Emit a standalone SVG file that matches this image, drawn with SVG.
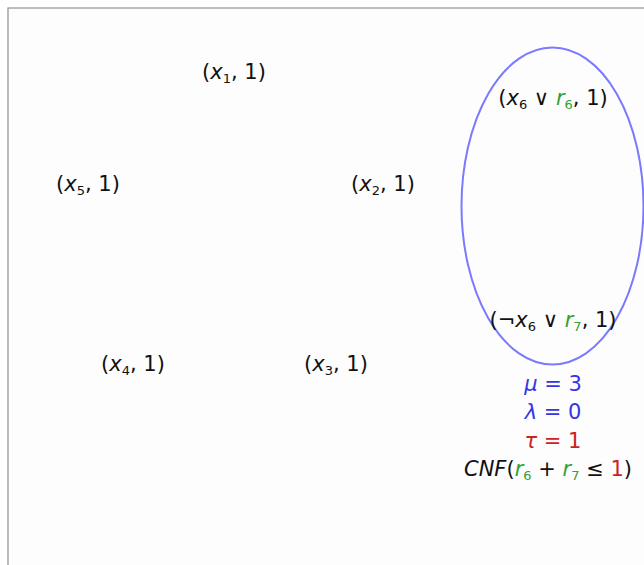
<svg xmlns="http://www.w3.org/2000/svg" width="644" height="565" viewBox="0 0 644 565">
<style>
text{font-family:"DejaVu Sans","Liberation Sans",sans-serif;font-size:21px;fill:#111;text-anchor:middle}
.i{font-style:italic}
.s{font-size:13px}
.g{fill:#35a035}
.b{fill:#3535e8}
.r{fill:#cc2222}
</style>
<rect x="0" y="0" width="644" height="565" fill="#ffffff"/>
<rect x="8" y="8" width="640" height="560" fill="#fdfdfd" stroke="#999" stroke-width="1.3"/>
<g id="cluster">
<ellipse cx="552.5" cy="206" rx="91" ry="158.5" fill="none" stroke="#7a7aff" stroke-width="2"/>
</g>
<g id="connectors"></g>
<g id="n1"><text x="234" y="79">(<tspan class="i">x</tspan><tspan class="s" dy="4">1</tspan><tspan dy="-4">, 1)</tspan></text></g>
<g id="n5"><text x="88" y="191">(<tspan class="i">x</tspan><tspan class="s" dy="4">5</tspan><tspan dy="-4">, 1)</tspan></text></g>
<g id="n2"><text x="383" y="191">(<tspan class="i">x</tspan><tspan class="s" dy="4">2</tspan><tspan dy="-4">, 1)</tspan></text></g>
<g id="n4"><text x="133" y="371">(<tspan class="i">x</tspan><tspan class="s" dy="4">4</tspan><tspan dy="-4">, 1)</tspan></text></g>
<g id="n3"><text x="336" y="371">(<tspan class="i">x</tspan><tspan class="s" dy="4">3</tspan><tspan dy="-4">, 1)</tspan></text></g>
<g id="n6"><text x="553" y="105">(<tspan class="i">x</tspan><tspan class="s" dy="4">6</tspan><tspan dy="-4"> ∨ </tspan><tspan class="i g">r</tspan><tspan class="s g" dy="4">6</tspan><tspan dy="-4">, 1)</tspan></text></g>
<g id="n7"><text x="553" y="327">(¬<tspan class="i">x</tspan><tspan class="s" dy="4">6</tspan><tspan dy="-4"> ∨ </tspan><tspan class="i g">r</tspan><tspan class="s g" dy="4">7</tspan><tspan dy="-4">, 1)</tspan></text></g>
<g id="info">
<text x="553" y="391" class="b"><tspan class="i">μ</tspan> = 3</text>
<text x="553" y="419" class="b"><tspan class="i">λ</tspan> = 0</text>
<text x="553" y="448" class="r"><tspan class="i">τ</tspan> = 1</text>
<text x="548" y="476"><tspan class="i">CNF</tspan>(<tspan class="i g">r</tspan><tspan class="s g" dy="4">6</tspan><tspan dy="-4"> + </tspan><tspan class="i g">r</tspan><tspan class="s g" dy="4">7</tspan><tspan dy="-4"> ≤ </tspan><tspan class="r">1</tspan>)</text>
</g>
</svg>
